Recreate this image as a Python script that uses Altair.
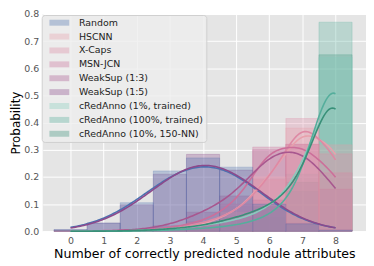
import altair as alt
import pandas as pd

methods = ["Random", "HSCNN", "X-Caps", "MSN-JCN", "WeakSup (1:3)", "WeakSup (1:5)",
           "cRedAnno (1%, trained)", "cRedAnno (100%, trained)", "cRedAnno (10%, 150-NN)"]
colors = ["#4C72B0", "#E8A0AC", "#DE89A4", "#CC6F9A", "#A8578F", "#8C4A8C",
          "#86CDBE", "#55AE9C", "#3A8F78"]

n_correct = [0, 1, 2, 3, 4, 5, 6, 7, 8]

random_p   = [0.006, 0.030, 0.105, 0.222, 0.270, 0.236, 0.100, 0.027, 0.004]
hscnn_p    = [0.000, 0.000, 0.002, 0.005, 0.025, 0.070, 0.200, 0.380, 0.318]
xcaps_p    = [0.000, 0.000, 0.002, 0.008, 0.030, 0.070, 0.190, 0.415, 0.285]
msnjcn_p   = [0.000, 0.002, 0.005, 0.013, 0.035, 0.100, 0.310, 0.320, 0.215]
weak13_p   = [0.000, 0.000, 0.005, 0.020, 0.070, 0.130, 0.300, 0.320, 0.155]
weak15_p   = [0.005, 0.030, 0.097, 0.210, 0.283, 0.225, 0.115, 0.030, 0.005]
cred1_p    = [0.000, 0.000, 0.002, 0.008, 0.020, 0.040, 0.080, 0.210, 0.640]
cred100_p  = [0.000, 0.000, 0.000, 0.003, 0.010, 0.020, 0.050, 0.147, 0.770]
cred10nn_p = [0.000, 0.000, 0.002, 0.008, 0.020, 0.050, 0.090, 0.180, 0.650]

# KDE bandwidths (in attribute units) of the smoothed curves
bandwidths = [0.9, 0.56, 0.56, 0.58, 0.7, 0.85, 0.62, 0.64, 0.62]

series = [random_p, hscnn_p, xcaps_p, msnjcn_p, weak13_p, weak15_p,
          cred1_p, cred100_p, cred10nn_p]

# histogram table (drawn in reverse so the first method ends on top)
rows = []
for m, vals in reversed(list(zip(methods, series))):
    for k, p in zip(n_correct, vals):
        rows.append({"method": m, "k": k, "p": p})
hist = pd.DataFrame(rows)

# pseudo-samples reproducing each distribution, for the KDE transform
N = 500
samp = []
for m, vals in zip(methods, series):
    for k, p in zip(n_correct, vals):
        samp.extend([{"method": m, "v": k}] * int(round(p * N)))
samples = pd.DataFrame(samp)

FONT = "DejaVu Sans"
xtitle = "Number of correctly predicted nodule attributes"
xscale = alt.Scale(domain=[-0.84, 8.92], nice=False, zero=False)
yscale = alt.Scale(domain=[0, 0.8], nice=False)
xaxis = alt.Axis(values=n_correct, format="d", title=xtitle)
yaxis = alt.Axis(values=[0, 0.1, 0.2, 0.3, 0.4, 0.5, 0.6, 0.7, 0.8], format=".1f",
                 title="Probability")

bars = alt.Chart(hist).transform_calculate(
    lo="datum.k - 0.5", hi="datum.k + 0.5"
).mark_rect(fillOpacity=0.3, strokeOpacity=0.3, strokeWidth=0.8).encode(
    x=alt.X("lo:Q", scale=xscale, axis=xaxis),
    x2="hi:Q",
    y=alt.Y("p:Q", scale=yscale, axis=yaxis),
    y2=alt.datum(0),
    color=alt.Color("method:N", scale=alt.Scale(domain=methods, range=colors),
                    sort=methods,
                    legend=alt.Legend(
                        title=None, orient="none", legendX=-1, legendY=1,
                        symbolType="M0,-1H6.667V1H0Z", symbolSize=36,
                        symbolOpacity=0.35, symbolStrokeWidth=0,
                        labelOffset=25, padding=3, rowPadding=3.0,
                        labelFontSize=9.5, labelFont=FONT, labelColor="#222222",
                        fillColor="rgba(238,238,238,0.8)", strokeColor="#cfcfcf",
                        cornerRadius=3)),
    stroke=alt.Color("method:N", scale=alt.Scale(domain=methods, range=colors), legend=None),
)

layers = [bars]
for m, c, h in zip(methods, colors, bandwidths):
    layers.append(
        alt.Chart(samples).transform_filter(alt.datum.method == m).transform_density(
            "v", as_=["v", "density"], bandwidth=h, extent=[0, 8], steps=161
        ).mark_line(color=c, strokeWidth=1.6).encode(
            x=alt.X("v:Q", scale=xscale, axis=xaxis),
            y=alt.Y("density:Q", scale=yscale, axis=yaxis),
        )
    )

chart = alt.layer(*layers).properties(
    width=326, height=219,
    padding={"left": 35, "top": 5, "right": 0, "bottom": 32},
    autosize=alt.AutoSizeParams(type="none"),
).configure_view(fill="#E5E5E5", stroke=None).configure_axis(
    grid=True, gridColor="white", gridWidth=1, domain=False, ticks=False,
    labelColor="#555555", labelFontSize=9.5, labelFont=FONT, labelPadding=4,
    titleFont=FONT, titleFontSize=12, titleColor="black", titleFontWeight="normal",
).configure_axisX(labelPadding=4, titlePadding=3, titleFontSize=12.7).configure_axisY(titlePadding=1)

chart.save("out.html", embed_options={"renderer": "svg", "actions": False})
